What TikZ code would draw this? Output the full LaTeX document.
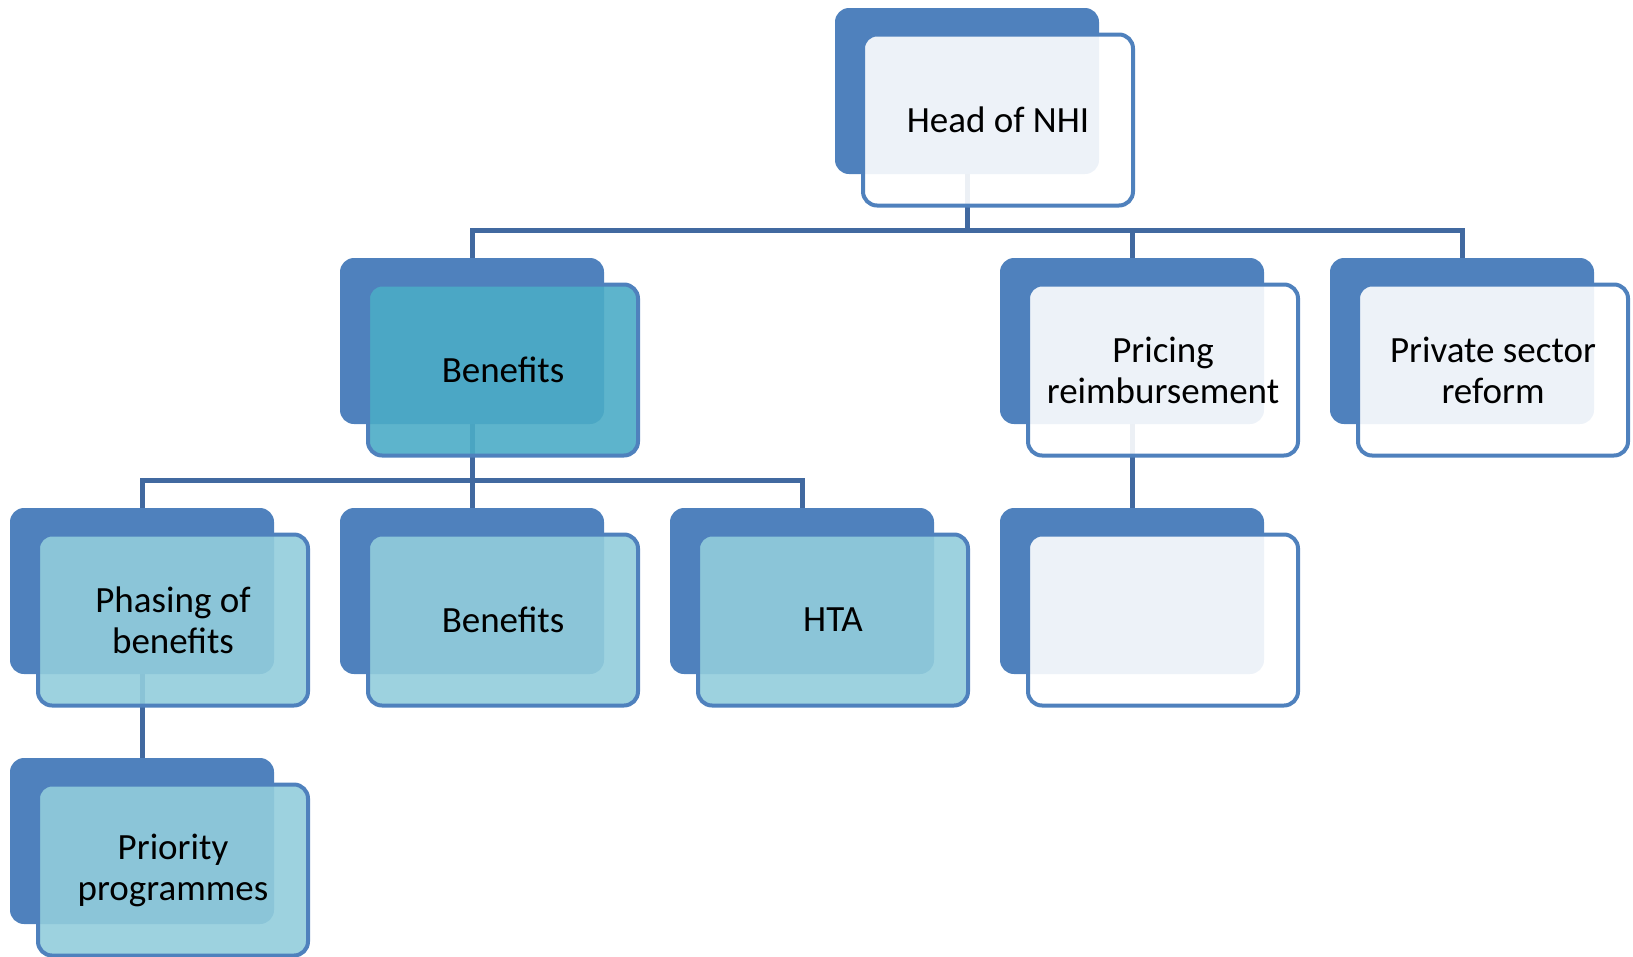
\documentclass[tikz,border=0pt]{standalone}
\usepackage{fontspec}
\setmainfont{Carlito}
\usetikzlibrary{positioning}

\definecolor{nhiblue}{HTML}{4F81BD}
\definecolor{nhiline}{HTML}{4169A0}
\definecolor{nhiaqua}{HTML}{4BACC6}
\definecolor{nhipale}{HTML}{92CDDC}

\begin{document}
\begin{tikzpicture}[x=1pt, y=-1pt,
    back/.style={rectangle, rounded corners=14pt, fill=nhiblue, minimum width=264pt, minimum height=166pt, inner sep=0pt, outer sep=0pt},
    front/.style={rectangle, rounded corners=14pt, draw=nhiblue, line width=4pt, fill=white, fill opacity=0.9, text opacity=1, minimum width=270pt, minimum height=171pt, inner sep=0pt, outer sep=0pt, align=center, font=\fontsize{37}{41}\selectfont},
    link/.style={draw=nhiline, line width=5pt}]
    \useasboundingbox (0,0) rectangle (1633,956);

    % ---------------- BACK PLATES ----------------
    \node[back] (headB) at (967,91) {};
    \node[back] (benB) at (472,341) {};
    \node[back] (priceB) at (1132,341) {};
    \node[back] (privB) at (1462,341) {};
    \node[back] (phaseB) at (142,591) {};
    \node[back] (ben2B) at (472,591) {};
    \node[back] (htaB) at (802,591) {};
    \node[back] (blankB) at (1132,591) {};
    \node[back] (prioB) at (142,841) {};

    % ---------------- CONNECTORS ----------------
    \coordinate (bus1) at (967,230);
    \draw[link] (headB.south) -- (bus1) -| (benB.north);
    \draw[link] (bus1) -| (priceB.north);
    \draw[link] (bus1) -| (privB.north);

    \coordinate (bus2) at (472,480);
    \draw[link] (benB.south) -- (bus2) -| (phaseB.north);
    \draw[link] (bus2) -- (ben2B.north);
    \draw[link] (bus2) -| (htaB.north);

    \draw[link] (priceB.south) -- (blankB.north);
    \draw[link] (phaseB.south) -- (prioB.north);

    % ---------------- FRONT CARDS ----------------
    \node[front] (head) at ([shift={(31,29)}]headB) {Head of NHI};
    \node[front, fill=nhiaqua] (ben) at ([shift={(31,29)}]benB) {Benefits};
    \node[front] (price) at ([shift={(31,29)}]priceB) {Pricing\\reimbursement};
    \node[front] (priv) at ([shift={(31,29)}]privB) {Private sector\\reform};
    \node[front, fill=nhipale] (phase) at ([shift={(31,29)}]phaseB) {Phasing of\\benefits};
    \node[front, fill=nhipale] (ben2) at ([shift={(31,29)}]ben2B) {Benefits};
    \node[front, fill=nhipale] (hta) at ([shift={(31,29)}]htaB) {HTA};
    \node[front] (blank) at ([shift={(31,29)}]blankB) {};
    \node[front, fill=nhipale] (prio) at ([shift={(31,29)}]prioB) {Priority\\programmes};
\end{tikzpicture}
\end{document}
